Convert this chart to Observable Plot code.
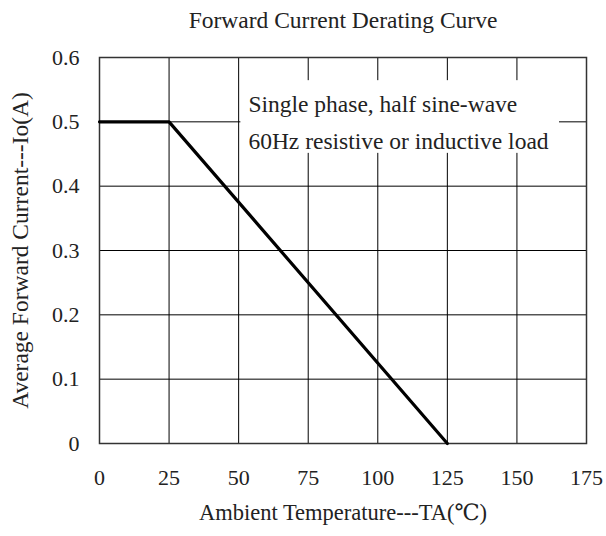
<!DOCTYPE html>
<html><head><meta charset="utf-8">
<script src="https://cdn.jsdelivr.net/npm/d3@7"></script>
<script src="https://cdn.jsdelivr.net/npm/@observablehq/plot@0.6"></script>
<style>body{margin:0;background:#fff}</style>
</head><body><div id="chart"></div>
<script>
const temps = [0, 25, 125];
const currents = [0.5, 0.5, 0];
const xTicks = [0, 25, 50, 75, 100, 125, 150, 175];
const yTicks = [0, 0.1, 0.2, 0.3, 0.4, 0.5, 0.6];
const noteLines = ["Single phase, half sine-wave", "60Hz resistive or inductive load"];
const noteLineY = [0.527, 0.469];
const noteX = 53.5;
const noteBox = [{x1: 50.8, x2: 165.3, y1: 0.451, y2: 0.564}];
const title = "Forward Current Derating Curve";
const xLabel = "Ambient Temperature---TA(℃)";
const yLabel = "Average Forward Current---Io(A)";

const curve = temps.map((t, i) => ({t, c: currents[i]}));
const notes = noteLines.map((s, i) => ({s, y: noteLineY[i]}));
const font = "'Liberation Serif', 'DejaVu Serif', serif";

const chart = Plot.plot({
  width: 606, height: 536,
  marginLeft: 99, marginRight: 20, marginTop: 57, marginBottom: 93,
  style: {fontFamily: font, background: "#fff", color: "#222"},
  x: {domain: [0, 175]},
  y: {domain: [0, 0.6]},
  marks: [
    Plot.ruleX(xTicks.slice(1, -1), {stroke: "#000", strokeWidth: 1}),
    Plot.ruleY(yTicks.slice(1, -1), {stroke: "#000", strokeWidth: 1}),
    Plot.rect(noteBox, {x1: "x1", x2: "x2", y1: "y1", y2: "y2", fill: "#fff"}),
    Plot.frame({stroke: "#333", strokeWidth: 1.5}),
    Plot.line(curve, {x: "t", y: "c", stroke: "#000", strokeWidth: 3.2}),
    Plot.text(notes, {x: noteX, y: "y", text: "s", textAnchor: "start", lineAnchor: "middle", fontSize: 23.5, fontFamily: font, fill: "#222"}),
    Plot.axisX({ticks: xTicks, tickSize: 0, tickPadding: 26, fontSize: 22, fontFamily: font, fill: "#222", label: null}),
    Plot.axisY({ticks: yTicks, tickSize: 0, tickPadding: 20, fontSize: 22, fontFamily: font, fill: "#222", label: null, tickFormat: d => d === 0 ? "0" : d3.format(".1f")(d)}),
    Plot.text([title], {frameAnchor: "top", dy: -37, lineAnchor: "middle", textAnchor: "middle", fontSize: 23.5, fontFamily: font, fill: "#222"}),
    Plot.text([xLabel], {frameAnchor: "bottom", dy: 69, lineAnchor: "middle", textAnchor: "middle", fontSize: 22.5, fontFamily: font, fill: "#222"}),
    Plot.text([yLabel], {frameAnchor: "left", dx: -79, rotate: -90, lineAnchor: "middle", textAnchor: "middle", fontSize: 23.5, fontFamily: font, fill: "#222"})
  ]
});
document.getElementById("chart").appendChild(chart);
</script></body></html>
